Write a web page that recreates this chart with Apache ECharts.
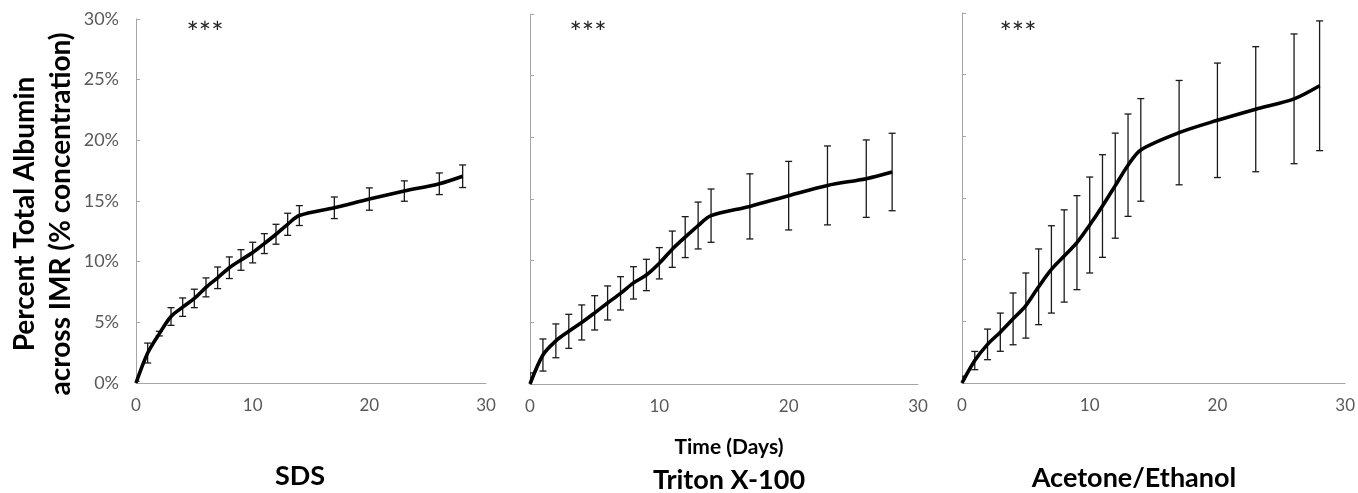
<!DOCTYPE html>
<html>
<head>
<meta charset="utf-8">
<script src="https://cdn.jsdelivr.net/npm/echarts@6/dist/echarts.min.js"></script>
<style>
html,body{margin:0;padding:0;background:#fff;}
#chart{width:1358px;height:493px;}
</style>
</head>
<body>
<div id="chart"></div>
<script>
// ---- data (percent units) ----
const days = [0, 1, 2, 3, 4, 5, 6, 7, 8, 9, 10, 11, 12, 13, 14, 17, 20, 23, 26, 28];
const sdsMean = [0, 2.47, 4.07, 5.48, 6.25, 6.97, 7.88, 8.67, 9.5, 10.14, 10.75, 11.49, 12.26, 13.08, 13.8, 14.44, 15.16, 15.82, 16.42, 17.04];
const sdsErr = [0.15, 0.82, 0.19, 0.73, 0.76, 0.76, 0.78, 0.89, 0.89, 0.85, 0.85, 0.82, 0.82, 0.91, 0.82, 0.89, 0.92, 0.84, 0.89, 0.93];
const tritonMean = [0, 2.35, 3.5, 4.27, 4.99, 5.77, 6.57, 7.35, 8.2, 8.84, 9.79, 10.93, 11.91, 12.85, 13.65, 14.4, 15.27, 16.1, 16.65, 17.19];
const tritonErr = [0.9, 1.3, 1.37, 1.38, 1.42, 1.39, 1.38, 1.35, 1.31, 1.27, 1.27, 1.47, 1.66, 1.9, 2.16, 2.64, 2.78, 3.2, 3.14, 3.14];
const aceMean = [0, 1.82, 3.13, 4.12, 5.2, 6.28, 7.8, 9.21, 10.3, 11.38, 12.81, 14.35, 16.0, 17.66, 18.9, 20.3, 21.3, 22.2, 23.04, 24.1];
const aceErr = [0.55, 0.74, 1.24, 1.55, 2.1, 2.64, 3.07, 3.54, 3.74, 3.81, 3.89, 4.16, 4.26, 4.15, 4.16, 4.23, 4.64, 5.07, 5.26, 5.26];
const panelTitles = ['SDS', 'Triton X-100', 'Acetone/Ethanol'];
const xTicks = { min: 0, max: 30, interval: 10 };
const yTicks = { min: 0, max: 30, interval: 5 };
const sigMark = '***';
const yTitle1 = 'Percent Total Albumin';
const yTitle2 = 'across IMR (% concentration)';
const xTitle = 'Time (Days)';

const panels = [
  { mean: sdsMean, err: sdsErr, grid: { left: 136, top: 19, width: 350, height: 364 }, showY: true, title: [300, 476], star: [205, 34] },
  { mean: tritonMean, err: tritonErr, grid: { left: 530, top: 14, width: 388, height: 370 }, showY: false, title: [729, 480], star: [588, 34] },
  { mean: aceMean, err: aceErr, grid: { left: 962, top: 13, width: 384, height: 370 }, showY: false, title: [1134, 478], star: [1018, 34] }
];

const FONT = 'Lato, "Open Sans", sans-serif';
const AXIS_COLOR = '#a6a6a6';
const LABEL_COLOR = '#595959';

const grids = [], xAxes = [], yAxes = [], series = [], graphics = [];
panels.forEach((p, i) => {
  grids.push(Object.assign({ containLabel: false }, p.grid));
  xAxes.push({
    type: 'value', gridIndex: i, min: xTicks.min, max: xTicks.max, interval: xTicks.interval,
    axisLine: { show: true, onZero: false, lineStyle: { color: AXIS_COLOR, width: 1 } },
    axisTick: { show: false },
    splitLine: { show: false },
    axisLabel: { color: LABEL_COLOR, fontFamily: FONT, fontSize: 17, margin: 14 }
  });
  yAxes.push({
    type: 'value', gridIndex: i, min: yTicks.min, max: yTicks.max, interval: yTicks.interval,
    axisLine: { show: true, lineStyle: { color: AXIS_COLOR, width: 1 } },
    axisTick: { show: true, inside: true, length: 4, lineStyle: { color: AXIS_COLOR } },
    splitLine: { show: false },
    axisLabel: { show: p.showY, color: LABEL_COLOR, fontFamily: FONT, fontSize: 18, margin: 17, formatter: '{value}%' }
  });
  const errData = days.map((d, k) => [d, p.mean[k] - p.err[k], p.mean[k] + p.err[k]]);
  series.push({
    type: 'custom', xAxisIndex: i, yAxisIndex: i, z: 2, clip: true,
    data: errData,
    renderItem: function (params, api) {
      const x = api.value(0);
      const lo = api.coord([x, api.value(1)]);
      const hi = api.coord([x, api.value(2)]);
      const c = 3.5;
      const st = { stroke: '#1a1a1a', lineWidth: 1.3 };
      return {
        type: 'group',
        children: [
          { type: 'line', shape: { x1: lo[0], y1: lo[1], x2: hi[0], y2: hi[1] }, style: st },
          { type: 'line', shape: { x1: lo[0] - c, y1: lo[1], x2: lo[0] + c, y2: lo[1] }, style: st },
          { type: 'line', shape: { x1: hi[0] - c, y1: hi[1], x2: hi[0] + c, y2: hi[1] }, style: st }
        ]
      };
    }
  });
  series.push({
    type: 'line', xAxisIndex: i, yAxisIndex: i, z: 3,
    data: days.map((d, k) => [d, p.mean[k]]),
    showSymbol: false, smooth: 0.3,
    lineStyle: { color: '#000', width: 3.6 }
  });
  graphics.push({
    type: 'text', x: p.title[0], y: p.title[1],
    style: { text: panelTitles[i], font: 'bold 27px ' + FONT, fill: '#000', textAlign: 'center', textVerticalAlign: 'middle' }
  });
  graphics.push({
    type: 'text', x: p.star[0], y: p.star[1],
    style: { text: sigMark, font: '29px ' + FONT, fill: '#222', textAlign: 'center', textVerticalAlign: 'middle' }
  });
});
graphics.push({
  type: 'text', x: 729, y: 447,
  style: { text: xTitle, font: 'bold 21px ' + FONT, fill: '#000', textAlign: 'center', textVerticalAlign: 'middle' }
});
graphics.push({
  type: 'text', x: 25, y: 214, rotation: Math.PI / 2,
  style: { text: yTitle1, font: 'bold 28px ' + FONT, fill: '#000', textAlign: 'center', textVerticalAlign: 'middle' }
});
graphics.push({
  type: 'text', x: 61, y: 214, rotation: Math.PI / 2,
  style: { text: yTitle2, font: 'bold 28px ' + FONT, fill: '#000', textAlign: 'center', textVerticalAlign: 'middle' }
});

const chart = echarts.init(document.getElementById('chart'), null, { renderer: 'canvas' });
chart.setOption({
  animation: false,
  backgroundColor: '#fff',
  grid: grids,
  xAxis: xAxes,
  yAxis: yAxes,
  series: series,
  graphic: graphics
});
</script>
</body>
</html>
